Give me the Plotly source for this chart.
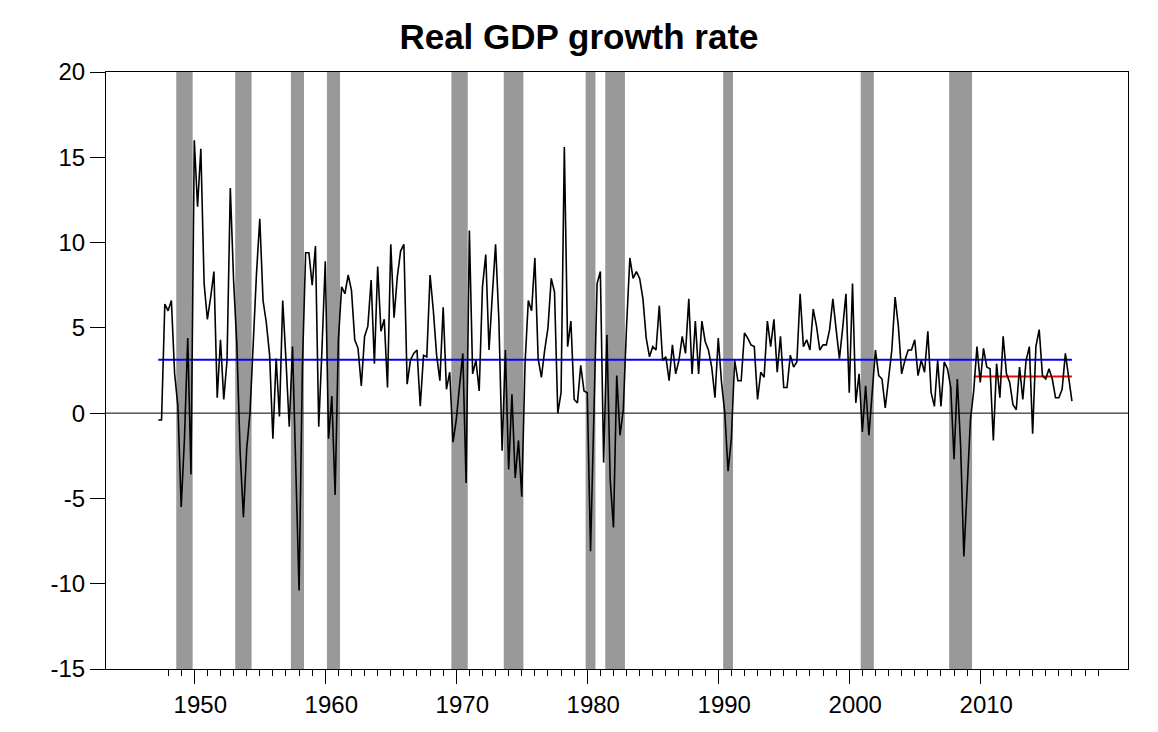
import plotly.graph_objects as go

# ---- data ----
start_year, start_q = 1947, 2  # first quarter plotted: 1947Q2
growth = [
    -0.4, -0.4, 6.4,                 # 1947 Q2-Q4
    6.0, 6.6, 2.3, 0.4,              # 1948
    -5.5, -1.5, 4.4, -3.6,           # 1949
    16.0, 12.1, 15.5, 7.6,           # 1950
    5.5, 6.8, 8.3, 0.9,              # 1951
    4.3, 0.8, 3.1, 13.2,             # 1952
    7.8, 4.0, -2.3, -6.1,            # 1953
    -2.1, 0.0, 4.5, 8.2,             # 1954
    11.4, 6.6, 5.3, 3.4,             # 1955
    -1.5, 3.2, -0.2, 6.6,            # 1956
    3.1, -0.8, 3.9, -4.1,            # 1957
    -10.4, 2.6, 9.4, 9.4,            # 1958
    7.5, 9.8, -0.8, 3.8,             # 1959
    8.9, -1.5, 1.0, -4.8,            # 1960
    4.3, 7.4, 7.0, 8.1,              # 1961
    7.2, 4.3, 3.8, 1.6,              # 1962
    4.5, 5.1, 7.8, 2.9,              # 1963
    8.6, 4.8, 5.5, 1.5,              # 1964
    9.9, 5.6, 8.0, 9.5,              # 1965
    9.9, 1.7, 3.1, 3.5,              # 1966
    3.7, 0.4, 3.4, 3.3,              # 1967
    8.1, 6.0, 3.4, 1.9,              # 1968
    6.2, 1.4, 2.4, -1.7,             # 1969
    -0.4, 1.6, 3.5, -4.1,            # 1970
    10.7, 2.3, 3.1, 1.3,             # 1971
    7.4, 9.3, 3.7, 6.9,              # 1972
    9.9, 5.5, -2.2, 3.7,             # 1973
    -3.3, 1.1, -3.8, -1.6,           # 1974
    -4.9, 2.9, 6.6, 6.0,             # 1975
    9.1, 3.2, 2.1, 3.7,              # 1976
    5.0, 7.9, 7.1, 0.0,              # 1977
    1.2, 15.6, 3.9, 5.4,             # 1978
    0.8, 0.6, 2.8, 1.3,              # 1979
    1.2, -8.1, -0.5, 7.6,            # 1980
    8.3, -2.9, 4.6, -3.9,            # 1981
    -6.7, 2.2, -1.3, 0.2,            # 1982
    5.1, 9.1, 7.9, 8.3,              # 1983
    7.9, 6.7, 4.4, 3.3,              # 1984
    3.9, 3.7, 6.3, 3.1,              # 1985
    3.3, 1.9, 4.0, 2.3,              # 1986
    3.1, 4.5, 3.5, 6.7,              # 1987
    2.3, 5.4, 2.3, 5.4,              # 1988
    4.2, 3.7, 2.7, 0.9,              # 1989
    4.4, 1.8, 0.0, -3.4,             # 1990
    -1.5, 3.1, 1.9, 1.9,             # 1991
    4.7, 4.4, 4.0, 3.9,              # 1992
    0.8, 2.4, 2.1, 5.4,              # 1993
    3.9, 5.5, 2.4, 4.5,              # 1994
    1.5, 1.5, 3.4, 2.7,              # 1995
    3.0, 7.0, 3.9, 4.3,              # 1996
    3.7, 6.1, 5.1, 3.7,              # 1997
    4.0, 4.0, 4.9, 6.7,              # 1998
    4.9, 3.2, 5.0, 7.0,              # 1999
    1.2, 7.6, 0.6, 2.3,              # 2000
    -1.1, 1.6, -1.3, 1.0,            # 2001
    3.7, 2.2, 2.0, 0.3,              # 2002
    2.0, 3.7, 6.8, 5.1,              # 2003
    2.3, 3.1, 3.7, 3.7,              # 2004
    4.3, 2.2, 3.1, 2.4,              # 2005
    4.8, 1.2, 0.4, 3.1,              # 2006
    0.4, 3.0, 2.6, 1.5,              # 2007
    -2.7, 2.0, -1.9, -8.4,           # 2008
    -4.4, -0.4, 1.3, 3.9,            # 2009
    1.8, 3.8, 2.7, 2.6,              # 2010
    -1.6, 2.9, 0.9, 4.5,             # 2011
    2.3, 1.8, 0.5, 0.2,              # 2012
    2.7, 0.8, 3.1, 3.9,              # 2013
    -1.2, 3.9, 4.9, 2.2,             # 2014
    2.0, 2.6, 2.0, 0.9,              # 2015
    0.9, 1.4, 3.5, 2.1,              # 2016
    0.7,                             # 2017 Q1
]

avg_full = 3.13          # historical average (blue)
avg_recent = 2.15        # average since 2009Q3 (red)
avg_recent_start = "2009Q3"

recessions = [
    ("1948Q4", "1949Q4"), ("1953Q2", "1954Q2"), ("1957Q3", "1958Q2"),
    ("1960Q2", "1961Q1"), ("1969Q4", "1970Q4"), ("1973Q4", "1975Q1"),
    ("1980Q1", "1980Q3"), ("1981Q3", "1982Q4"), ("1990Q3", "1991Q1"),
    ("2001Q1", "2001Q4"), ("2007Q4", "2009Q2"),
]

x_tick_years = [1950, 1960, 1970, 1980, 1990, 2000, 2010]
x_tick_labels = ["1950", "1960", "1970", "1980", "1990", "2000", "2010"]
y_tick_vals = [-15, -10, -5, 0, 5, 10, 15, 20]
y_tick_labels = ["-15", "-10", "-5", "0", "5", "10", "15", "20"]


def qpos(s):
    y, q = s.split("Q")
    return int(y) + (int(q) - 1) / 4


t = [start_year + (start_q - 1) / 4 + 0.25 * i for i in range(len(growth))]

fig = go.Figure()

for p, tr in recessions:
    fig.add_shape(type="rect", xref="x", yref="paper",
                  x0=qpos(p) - 0.125, x1=qpos(tr) + 0.125, y0=0, y1=1,
                  fillcolor="#999999", line_width=0, layer="below")

fig.add_shape(type="line", xref="paper", yref="y", x0=0, x1=1, y0=0, y1=0,
              line=dict(color="black", width=1), layer="below")

fig.add_trace(go.Scatter(x=[t[0], t[-1]], y=[avg_full, avg_full], mode="lines",
                         line=dict(color="#0000ff", width=2), hoverinfo="skip"))
fig.add_trace(go.Scatter(x=[qpos(avg_recent_start), t[-1]], y=[avg_recent, avg_recent],
                         mode="lines", line=dict(color="#ff0000", width=2), hoverinfo="skip"))
fig.add_trace(go.Scatter(x=t, y=growth, mode="lines",
                         line=dict(color="black", width=1.6)))

W, H = 1150, 724  # page body has an 8px margin
font_family = "Arial, Liberation Sans, sans-serif"
fig.update_layout(
    width=W, height=H,
    margin=dict(l=98, r=30, t=64, b=63),
    paper_bgcolor="white", plot_bgcolor="white",
    showlegend=False,
    title=dict(text="<b>Real GDP growth rate</b>", x=571 / W, xanchor="center",
               y=(H - 29) / H, yanchor="middle", yref="container",
               font=dict(family=font_family, size=35, color="black")),
    font=dict(family=font_family, color="black"),
)
fig.update_xaxes(
    range=[1943.26, 2021.28], tickmode="array", tickvals=x_tick_years, ticktext=x_tick_labels,
    ticks="outside", ticklen=14, tickcolor="black", tickwidth=1,
    showline=True, linecolor="black", linewidth=1, mirror=True,
    showgrid=False, zeroline=False, ticklabelshift=6,
    tickfont=dict(size=24, family=font_family, color="black"),
    minor=dict(tickmode="array",
               tickvals=[yr for yr in range(1948, 2021) if yr % 10 != 0],
               ticks="outside", ticklen=6, tickcolor="black", tickwidth=1, showgrid=False),
)
fig.update_yaxes(
    range=[-15, 20], tickmode="array", tickvals=y_tick_vals, ticktext=y_tick_labels,
    ticks="outside", ticklen=15, tickcolor="black", tickwidth=1,
    showline=True, linecolor="black", linewidth=1, mirror=True,
    showgrid=False, zeroline=False,
    tickfont=dict(size=24, family=font_family, color="black"),
)

fig.write_html("out.html")
